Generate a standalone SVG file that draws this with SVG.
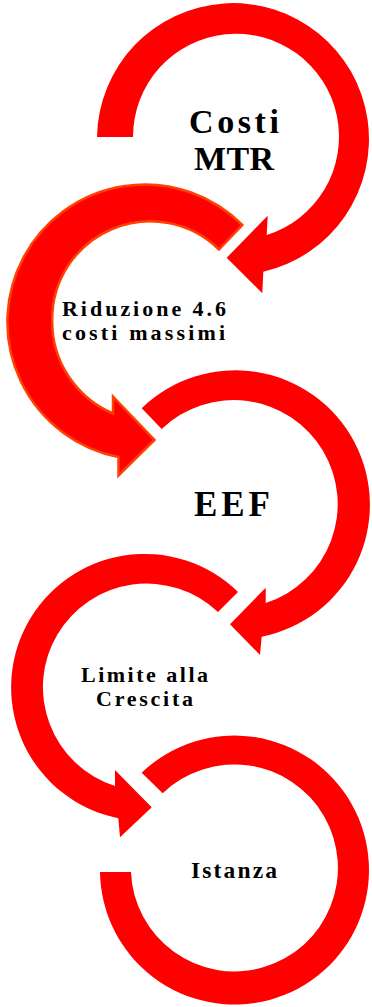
<svg xmlns="http://www.w3.org/2000/svg" width="372" height="1007" viewBox="0 0 372 1007">
<style>
.arr{fill:#FF0000;}
.arr2{fill:#FF0000;stroke:#FF4000;stroke-width:2.5;stroke-linejoin:miter;}
.lbl{font-family:"Liberation Serif","Times New Roman",serif;font-weight:bold;fill:#000;text-anchor:middle;}
.lbs{font-family:"Liberation Serif","Times New Roman",serif;font-weight:bold;fill:#000;}
</style>
<rect width="372" height="1007" fill="#FFFFFF"/>
<g id="node-costi-mtr">
<path class="arr" d="M 97,137 A 136,136 0 1 1 263.3,271.7 L 262.3,293.3 L 226.7,257.7 L 267.7,215.7 L 266.7,235 A 103,103 0 1 0 133,137 Z"/>
<text class="lbl" x="234" y="133" font-size="34" textLength="90" lengthAdjust="spacing">Costi</text>
<text class="lbl" x="234" y="170" font-size="34" textLength="80" lengthAdjust="spacing">MTR</text>
</g>
<g id="node-riduzione">
<path class="arr2" d="M 242.3,225 A 137.5,137.5 0 1 0 118.5,457 L 118.5,475.5 L 154.5,440 L 113,396.5 L 113,413.5 A 100,100 0 0 1 52.2,320 A 98,98 0 0 1 219,249.5 Z"/>
<text class="lbs" x="62" y="316" font-size="22" textLength="164" lengthAdjust="spacing">Riduzione 4.6</text>
<text class="lbs" x="62" y="340" font-size="22" textLength="163" lengthAdjust="spacing">costi massimi</text>
</g>
<g id="node-eef">
<path class="arr" d="M 141.7,408.3 A 134.5,134.5 0 1 1 261.7,636.7 L 260,655 L 230,624.3 L 265.7,587.7 L 265.7,603 A 104,104 0 1 0 161.7,429 Z"/>
<text class="lbl" x="232" y="516" font-size="35" textLength="76" lengthAdjust="spacing">EEF</text>
</g>
<g id="node-limite">
<path class="arr" d="M 238,592 A 133.5,133.5 0 1 0 118.3,818.3 L 120,837.3 L 151.7,807.3 L 115,770 L 115,786 A 103.7,103.7 0 1 1 218,612 Z"/>
<text class="lbl" x="144.5" y="682" font-size="22" textLength="127" lengthAdjust="spacing">Limite alla</text>
<text class="lbl" x="144.5" y="706" font-size="22" textLength="97" lengthAdjust="spacing">Crescita</text>
</g>
<g id="node-istanza">
<path class="arr" d="M 141.7,772.7 A 134.5,134.5 0 1 1 100,872 L 131,872 A 103.5,103.5 0 1 0 162.7,793.3 Z"/>
<text class="lbl" x="234" y="878" font-size="23.5" textLength="86" lengthAdjust="spacing">Istanza</text>
</g>
<g id="connectors"></g>
</svg>
